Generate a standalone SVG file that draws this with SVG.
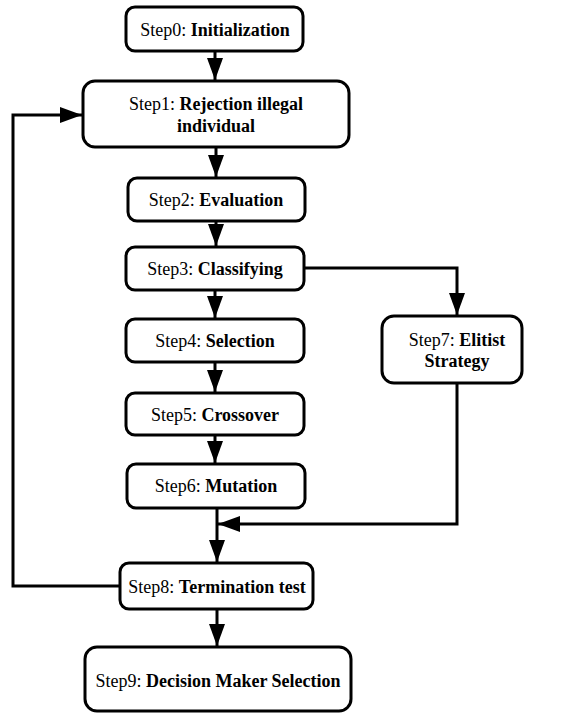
<svg xmlns="http://www.w3.org/2000/svg" width="562" height="713" viewBox="0 0 562 713">
<style>
.box{fill:#fff;stroke:#000;stroke-width:3}
.lbl{font-family:"Liberation Serif","Times New Roman",serif;font-size:18px;fill:#000;text-anchor:middle}
.b{font-weight:bold}
.con{fill:none;stroke:#000;stroke-width:3}
</style>
<defs>
<marker id="ah" markerUnits="userSpaceOnUse" markerWidth="22" markerHeight="16" viewBox="0 0 22 16" refX="22" refY="8" orient="auto">
<path d="M0,0 L22,8 L0,16 z" fill="#000"/>
</marker>
</defs>
<rect width="562" height="713" fill="#fff"/>
<g id="connectors">
<path class="con" d="M215,51 V80" marker-end="url(#ah)"/>
<path class="con" d="M216,147 V177" marker-end="url(#ah)"/>
<path class="con" d="M216,221 V246" marker-end="url(#ah)"/>
<path class="con" d="M215,290 V318" marker-end="url(#ah)"/>
<path class="con" d="M215,362 V392" marker-end="url(#ah)"/>
<path class="con" d="M215,435 V463" marker-end="url(#ah)"/>
<path class="con" d="M217,508 V562" marker-end="url(#ah)"/>
<path class="con" d="M217,609 V646" marker-end="url(#ah)"/>
<path class="con" d="M304,268 H457 V315" marker-end="url(#ah)"/>
<path class="con" d="M457,383 V524 H218" marker-end="url(#ah)"/>
<path class="con" d="M120,586 H13 V115 H82" marker-end="url(#ah)"/>
</g>
<g id="step0">
<rect class="box" x="126" y="7" width="177" height="44" rx="9"/>
<text class="lbl" x="215" y="36">Step0: <tspan class="b">Initialization</tspan></text>
</g>
<g id="step1">
<rect class="box" x="83" y="81" width="266" height="66" rx="12"/>
<text class="lbl" x="216" y="110">Step1: <tspan class="b">Rejection illegal</tspan></text>
<text class="lbl b" x="216" y="132">individual</text>
</g>
<g id="step2">
<rect class="box" x="128" y="178" width="177" height="43" rx="9"/>
<text class="lbl" x="216" y="206">Step2: <tspan class="b">Evaluation</tspan></text>
</g>
<g id="step3">
<rect class="box" x="126" y="247" width="178" height="43" rx="9"/>
<text class="lbl" x="215" y="275">Step3: <tspan class="b">Classifying</tspan></text>
</g>
<g id="step4">
<rect class="box" x="126" y="319" width="178" height="43" rx="9"/>
<text class="lbl" x="215" y="347">Step4: <tspan class="b">Selection</tspan></text>
</g>
<g id="step5">
<rect class="box" x="126" y="393" width="178" height="42" rx="9"/>
<text class="lbl" x="215" y="421">Step5: <tspan class="b">Crossover</tspan></text>
</g>
<g id="step6">
<rect class="box" x="127" y="464" width="178" height="44" rx="9"/>
<text class="lbl" x="216" y="492">Step6: <tspan class="b">Mutation</tspan></text>
</g>
<g id="step7">
<rect class="box" x="382" y="316" width="140" height="67" rx="12"/>
<text class="lbl" x="457" y="346">Step7: <tspan class="b">Elitist</tspan></text>
<text class="lbl b" x="457" y="367">Strategy</text>
</g>
<g id="step8">
<rect class="box" x="120" y="563" width="193" height="46" rx="9"/>
<text class="lbl" x="217" y="593">Step8: <tspan class="b">Termination test</tspan></text>
</g>
<g id="step9">
<rect class="box" x="85" y="647" width="266" height="64" rx="12"/>
<text class="lbl" x="218" y="687">Step9: <tspan class="b">Decision Maker Selection</tspan></text>
</g>
</svg>
